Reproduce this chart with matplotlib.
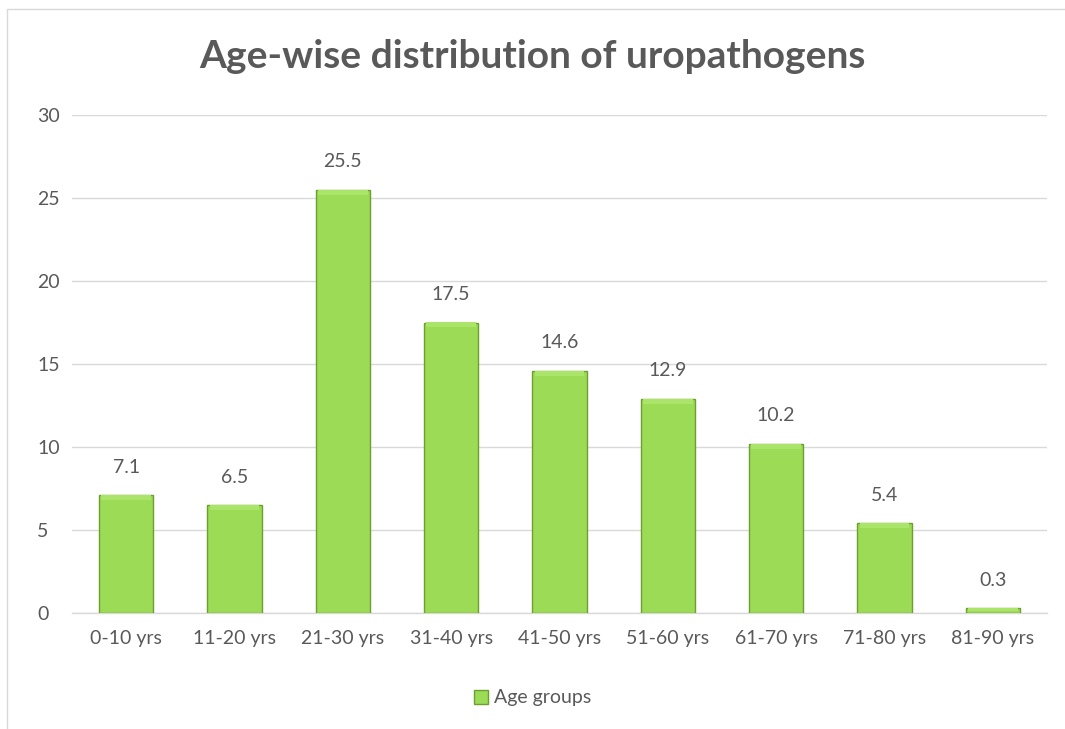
import matplotlib
matplotlib.use("Agg")
import matplotlib.pyplot as plt
from matplotlib.patches import Rectangle
from matplotlib.transforms import ScaledTranslation

categories = ["0-10 yrs", "11-20 yrs", "21-30 yrs", "31-40 yrs", "41-50 yrs",
              "51-60 yrs", "61-70 yrs", "71-80 yrs", "81-90 yrs"]
values = [7.1, 6.5, 25.5, 17.5, 14.6, 12.9, 10.2, 5.4, 0.3]
yticks = [0, 5, 10, 15, 20, 25, 30]
series_name = "Age groups"
title = "Age-wise distribution of uropathogens"

plt.rcParams['font.family'] = ['Lato', 'DejaVu Sans']
gray = '#595959'

fig = plt.figure(figsize=(10.65, 7.29), dpi=100)
# chart border
fig.patches.append(Rectangle((7/1065, -0.05), 1.1, 1 - 9/729 + 0.05, transform=fig.transFigure,
                             fill=False, edgecolor='#D9D9D9', linewidth=1.0))

ax = fig.add_axes([72/1065, 1 - 613/729, (1047 - 72)/1065, (613 - 115)/729])
x = list(range(len(categories)))
bars = ax.bar(x, values, width=0.5, color='#9BDB55', edgecolor='#6E9E2E', linewidth=1.0,
              zorder=3, label=series_name)
# subtle bevel strip on top of each bar
for xi, v in zip(x, values):
    h = min(0.3, v * 0.5)
    ax.bar(xi, h, bottom=v - h, width=0.46, color='#AAE468', edgecolor='none', zorder=4)

ax.set_xlim(-0.5, len(categories) - 0.5)
ax.set_ylim(0, 30)
ax.set_yticks(yticks)
ax.set_xticks(x)
ax.set_xticklabels(categories)
ax.grid(axis='y', color='#D9D9D9', linewidth=1.0, zorder=0)
for s in ['top', 'right', 'left']:
    ax.spines[s].set_visible(False)
ax.spines['bottom'].set_color('#D9D9D9')
ax.spines['bottom'].set_linewidth(1.0)
ax.tick_params(axis='both', length=0, colors=gray, labelsize=14)
ax.tick_params(axis='x', pad=12)
ax.yaxis.set_tick_params(pad=0)
for lbl in ax.get_yticklabels():
    lbl.set_horizontalalignment('left')
    lbl.set_transform(lbl.get_transform() + ScaledTranslation(-35/100, 0, fig.dpi_scale_trans))

for xi, v in zip(x, values):
    ax.annotate(f"{v}", (xi, v), xytext=(0, 14), textcoords='offset points',
                ha='center', va='bottom', fontsize=14, color=gray)

fig.text(0.5, 1 - 57/729, title, ha='center', va='center', fontsize=28,
         fontweight='bold', color=gray)

leg = fig.legend(handles=[bars], labels=[series_name], loc='center',
                 bbox_to_anchor=(0.5, 1 - 698/729), frameon=False, fontsize=14,
                 handlelength=0.7, handleheight=0.7, handletextpad=0.3)
for t in leg.get_texts():
    t.set_color(gray)

fig.savefig("out.png", dpi=100)
